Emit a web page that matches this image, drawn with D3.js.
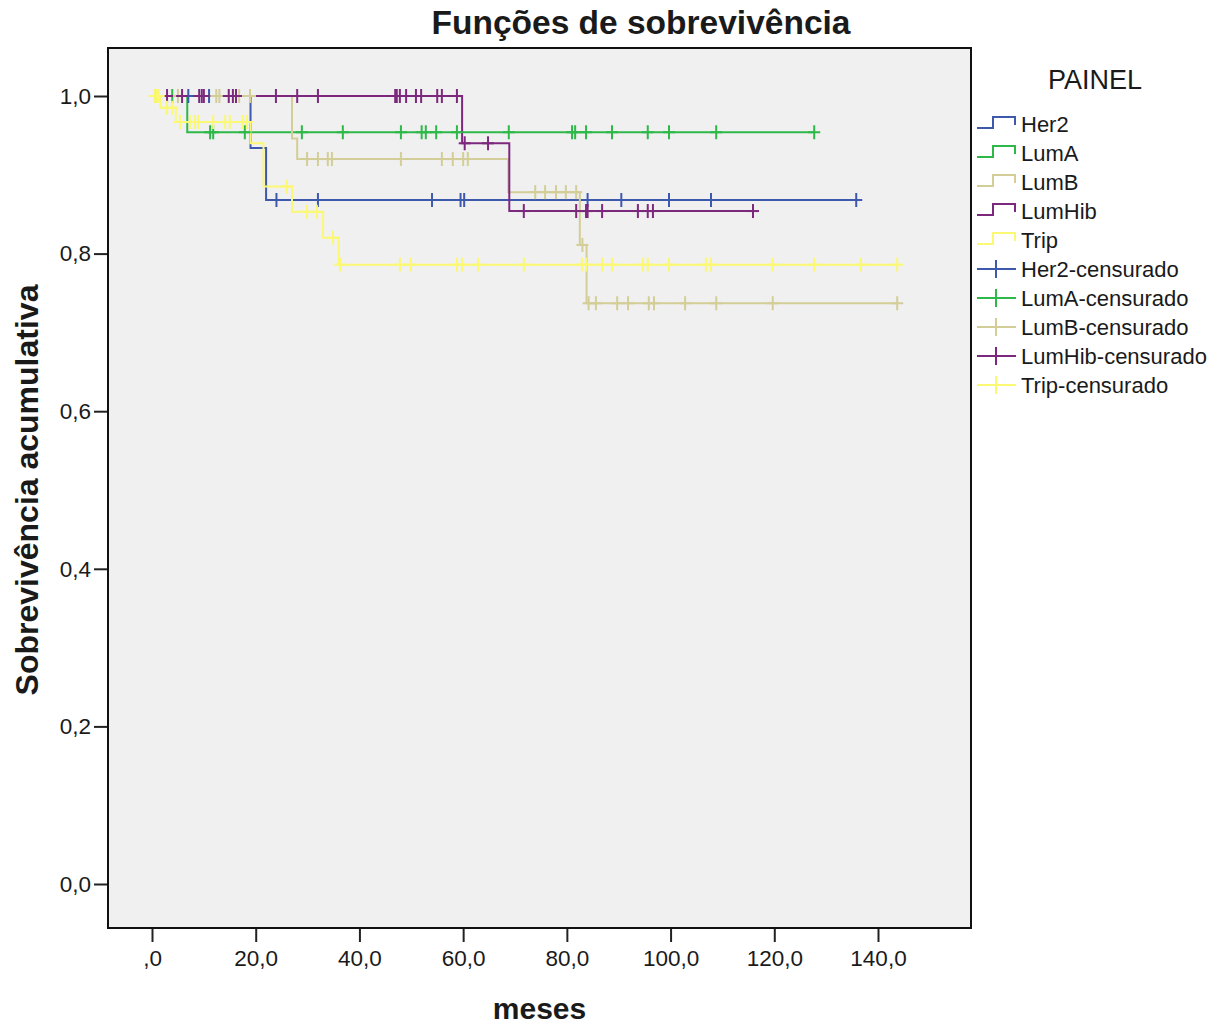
<!DOCTYPE html>
<html>
<head>
<meta charset="utf-8">
<script src="https://cdn.jsdelivr.net/npm/d3@7"></script>
<style>
  body { margin: 0; background: #fff; }
  text { font-family: "Liberation Sans", Arial, sans-serif; fill: #1a1a1a; }
</style>
</head>
<body>
<svg id="chart" width="1227" height="1024"></svg>
<script>
    // grupos e cores (paleta SPSS)
    var groups = ['Her2', 'LumA', 'LumB', 'LumHib', 'Trip'],
        colors = ['#3e58ac', '#2eb848', '#d3ce97', '#7c287d', '#fbf873'];

    // eventos: [meses, sobrevivencia apos o evento]
    var her2Events = [[19, 0.934], [22, 0.868]],
        lumAEvents = [[6.8, 0.954]],
        lumBEvents = [[27, 0.946], [28, 0.920], [68.7, 0.878], [82.5, 0.811], [83.8, 0.737]],
        lumHibEvents = [[59.8, 0.940], [68.9, 0.854]],
        tripEvents = [[1.6, 0.985], [4.6, 0.967], [19, 0.940], [21.5, 0.885], [27, 0.853], [33, 0.820], [36, 0.786]];

    // tempos censurados (meses)
    var her2Censored = [7, 11, 24, 32, 54, 59.5, 60.2, 84, 90.5, 99.7, 107.8, 135.8],
        lumACensored = [3.9, 11.2, 11.8, 17.9, 28.9, 36.8, 48, 52, 52.8, 54.8, 58.8, 68.8, 81, 81.6, 83.7, 88.7, 95.6, 99.7, 108.8, 127.7],
        lumBCensored = [0.8, 5, 12.4, 13, 16.8, 18.9, 29.9, 32, 33.9, 34.7, 48, 55.9, 58, 60, 60.9, 73.9, 75.8, 77.9, 79.8, 81.8, 83, 84.2, 85.6, 89.7, 91.8, 95.8, 96.8, 102.8, 108.8, 119.7, 143.7],
        lumHibCensored = [2.9, 5.8, 9.1, 9.6, 10, 14.8, 15.6, 16.2, 23.9, 28, 32, 46.9, 47.2, 47.8, 49, 50.9, 51.9, 55, 55.9, 58.8, 60.3, 64.8, 71.7, 81.8, 83.7, 84, 86.8, 93.7, 95.6, 96.6, 115.9],
        tripCensored = [0.5, 0.9, 1.3, 2.9, 3.9, 5.4, 7.3, 8.3, 8.9, 11.8, 14.1, 15, 17.5, 18.3, 26, 29.9, 31.8, 34.9, 36.3, 47.8, 49.9, 58.8, 59.8, 62.9, 71.7, 82.9, 83.7, 86.8, 88.7, 94.7, 95.6, 99.7, 106.8, 107.8, 119.7, 127.7, 136.7, 143.7];

    var xTicks = [0, 20, 40, 60, 80, 100, 120, 140],
        xTickLabels = [',0', '20,0', '40,0', '60,0', '80,0', '100,0', '120,0', '140,0'],
        yTicks = [0, 0.2, 0.4, 0.6, 0.8, 1.0],
        yTickLabels = ['0,0', '0,2', '0,4', '0,6', '0,8', '1,0'];

    var legendLabels = groups.concat(groups.map(function (g) { return g + '-censurado'; }));

    var plot = { left: 108, top: 48, right: 971, bottom: 928 };

    var svg = d3.select('#chart');

    var x = d3.scaleLinear().domain([0, 140]).range([152, 878]),
        y = d3.scaleLinear().domain([0, 1]).range([884, 96]);

    var series = [
        { events: her2Events, censored: her2Censored },
        { events: lumAEvents, censored: lumACensored },
        { events: lumBEvents, censored: lumBCensored },
        { events: lumHibEvents, censored: lumHibCensored },
        { events: tripEvents, censored: tripCensored }
    ];

    var survivalAt = function survivalAt(events, t) {
        var s = 1;
        events.forEach(function (e) {
            if (e[0] <= t) { s = e[1]; }
        });
        return s;
    };

    // fundo e moldura
    svg.append('rect')
        .attr('x', plot.left).attr('y', plot.top)
        .attr('width', plot.right - plot.left).attr('height', plot.bottom - plot.top)
        .attr('fill', '#f0f0f0').attr('stroke', '#111').attr('stroke-width', 2);

    // eixos
    var xAxis = d3.axisBottom(x).tickValues(xTicks).tickSize(13).tickPadding(8)
        .tickFormat(function (d, i) { return xTickLabels[i]; });
    var gx = svg.append('g').attr('transform', 'translate(0,' + (plot.bottom + 1) + ')').call(xAxis);

    var yAxis = d3.axisLeft(y).tickValues(yTicks).tickSize(13).tickPadding(3)
        .tickFormat(function (d, i) { return yTickLabels[i]; });
    var gy = svg.append('g').attr('transform', 'translate(' + (plot.left - 1) + ',0)').call(yAxis);

    [gx, gy].forEach(function (g) {
        g.select('.domain').remove();
        g.selectAll('.tick line').attr('stroke', '#222').attr('stroke-width', 2);
        g.selectAll('.tick text').attr('font-size', 22.5).attr('fill', '#1a1a1a')
            .style('font-family', '"Liberation Sans", Arial, sans-serif');
    });

    // curvas
    var line = d3.line()
        .x(function (d) { return x(d[0]); })
        .y(function (d) { return y(d[1]); })
        .curve(d3.curveStepAfter);

    series.forEach(function (s, i) {
        var lastT = d3.max(s.censored.concat(s.events.map(function (e) { return e[0]; })));
        var pts = [[0, 1]].concat(s.events);
        pts.push([lastT, s.events[s.events.length - 1][1]]);
        svg.append('path')
            .datum(pts)
            .attr('d', line)
            .attr('fill', 'none')
            .attr('stroke', colors[i])
            .attr('stroke-width', 2);
    });

    // marcas de censura
    series.forEach(function (s, i) {
        var g = svg.append('g').attr('stroke', colors[i]).attr('stroke-width', 2);
        s.censored.forEach(function (t) {
            var cx = x(t), cy = y(survivalAt(s.events, t));
            g.append('line').attr('x1', cx).attr('x2', cx).attr('y1', cy - 7).attr('y2', cy + 7);
            g.append('line').attr('x1', cx - 6).attr('x2', cx + 6).attr('y1', cy).attr('y2', cy);
        });
    });

    // titulos
    svg.append('text')
        .attr('x', 641).attr('y', 34)
        .attr('text-anchor', 'middle')
        .attr('font-size', 33.5).attr('font-weight', 'bold')
        .text('Funções de sobrevivência');

    svg.append('text')
        .attr('x', (plot.left + plot.right) / 2).attr('y', 1019)
        .attr('text-anchor', 'middle')
        .attr('font-size', 30).attr('font-weight', 'bold')
        .text('meses');

    svg.append('text')
        .attr('transform', 'translate(38,' + ((plot.top + plot.bottom) / 2 + 2) + ') rotate(-90)')
        .attr('text-anchor', 'middle')
        .attr('font-size', 32).attr('font-weight', 'bold')
        .text('Sobrevivência acumulativa');

    // legenda
    var legend = svg.append('g');
    legend.append('text')
        .attr('x', 1095).attr('y', 89)
        .attr('text-anchor', 'middle')
        .attr('font-size', 27)
        .text('PAINEL');

    legendLabels.forEach(function (label, i) {
        var cy = 124 + i * 29,
            color = colors[i % groups.length],
            item = legend.append('g');
        if (i < groups.length) {
            item.append('path')
                .attr('d', 'M977,' + (cy + 4) + 'H993V' + (cy - 7) + 'H1015V' + (cy + 1))
                .attr('fill', 'none').attr('stroke', color).attr('stroke-width', 2);
        } else {
            item.append('line').attr('x1', 977).attr('x2', 1016).attr('y1', cy).attr('y2', cy)
                .attr('stroke', color).attr('stroke-width', 2);
            item.append('line').attr('x1', 996).attr('x2', 996).attr('y1', cy - 9).attr('y2', cy + 9)
                .attr('stroke', color).attr('stroke-width', 2);
        }
        item.append('text')
            .attr('x', 1021).attr('y', cy + 8)
            .attr('font-size', 22)
            .text(label);
    });
</script>
</body>
</html>
